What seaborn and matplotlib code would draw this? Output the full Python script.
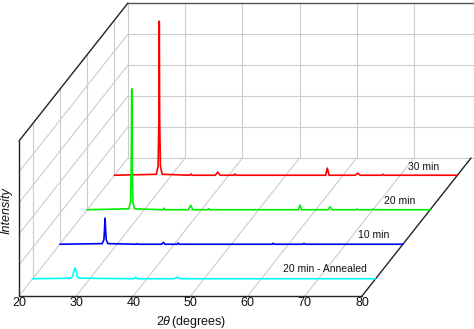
import numpy as np
import pandas as pd
import matplotlib
matplotlib.use("Agg")
import matplotlib.pyplot as plt
import seaborn as sns

# ---------------- data ----------------
series_labels = ["20 min - Annealed", "10 min", "20 min", "30 min"]
series_colors = ["#00FFFF", "#0000FF", "#00EE00", "#FF0000"]
series_depth = [0.125, 0.375, 0.625, 0.875]   # position along the depth axis (fraction)

# 2theta / intensity points (intensity in grid units, 5 units = full height)
annealed_x = [20, 26.7, 27.0, 27.2, 27.4, 27.6, 27.8, 28.1, 37.7, 38.0, 38.3, 44.7, 45.3, 45.9, 80]
annealed_y = [0, 0.02, 0.08, 0.25, 0.35, 0.25, 0.08, 0.02, 0, 0.05, 0, 0, 0.05, 0, 0]

min10_x = [20, 27.4, 27.7, 27.8, 27.9, 28.0, 28.1, 28.4, 33.3, 33.5, 33.7, 37.8, 38.1, 38.4,
           40.5, 40.7, 40.9, 57.1, 57.3, 57.5, 62.5, 62.7, 62.9, 80]
min10_y = [0, 0.02, 0.15, 0.45, 0.84, 0.45, 0.15, 0.02, 0, 0.02, 0, 0, 0.06, 0,
           0, 0.04, 0, 0, 0.03, 0, 0, 0.03, 0, 0]

min20_x = [20, 27.3, 27.6, 27.72, 27.8, 27.88, 28.0, 28.3, 33.25, 33.45, 33.65, 37.7, 38.1, 38.5,
           41.1, 41.3, 41.5, 56.95, 57.24, 57.55, 62.1, 62.5, 62.9, 67.0, 67.2, 67.4,
           69.8, 70.0, 70.2, 80]
min20_y = [0, 0.03, 0.25, 1.5, 3.9, 1.5, 0.25, 0.03, 0, 0.05, 0, 0, 0.14, 0,
           0, 0.03, 0, 0, 0.15, 0, 0, 0.09, 0, 0, 0.02, 0,
           0, 0.02, 0, 0]

min30_x = [20, 27.35, 27.65, 27.78, 27.85, 27.92, 28.05, 28.35, 33.2, 33.4, 33.6, 37.65, 38.07, 38.5,
           40.9, 41.1, 41.3, 56.95, 57.24, 57.55, 62.15, 62.56, 63.0, 66.8, 67.0, 67.2, 80]
min30_y = [0, 0.03, 0.3, 1.8, 4.97, 1.8, 0.3, 0.03, 0, 0.04, 0, 0, 0.1, 0,
           0, 0.04, 0, 0, 0.23, 0, 0, 0.07, 0, 0, 0.03, 0, 0]

series_x = [annealed_x, min10_x, min20_x, min30_x]
series_y = [annealed_y, min10_y, min20_y, min30_y]

x_ticks = [20, 30, 40, 50, 60, 70, 80]
z_grid = [0, 1, 2, 3, 4, 5]

# ---------------- projection settings ----------------
DX = 19.07   # depth shift in x (degrees)
DY = 4.452   # depth shift in y (intensity units)
X0, X1 = 20, 80
ZTOP = 5

def proj(x, z, f):
    return np.asarray(x, float) + f * DX, np.asarray(z, float) + f * DY

sns.set_theme(style="white")
plt.rcParams["font.family"] = ["Liberation Sans", "DejaVu Sans"]
plt.rcParams["mathtext.fontset"] = "custom"
plt.rcParams["mathtext.it"] = "Liberation Sans:italic"
plt.rcParams["mathtext.rm"] = "Liberation Sans"

fig = plt.figure(figsize=(4.74, 3.29), dpi=100)
ax = fig.add_axes([0, 0, 1, 1])
ax.set_xlim(16.676, 99.59)
ax.set_ylim(-1.0645, 9.548)
ax.axis("off")

gc = "#cccccc"
glw = 0.8
# back plane grid
for x in x_ticks[:-1]:
    px, py = proj([x, x], [0, ZTOP], 1)
    ax.plot(px, py, color=gc, lw=glw, zorder=1)
for z in z_grid[:-1]:
    px, py = proj([X0, X1 + 0.6], [z, z], 1)
    ax.plot(px, py, color=gc, lw=glw, zorder=1)
# left wall grid
for z in z_grid[:-1]:
    ax.plot([X0, X0 + DX], [z, z + DY], color=gc, lw=glw, zorder=1)
for f in series_depth:
    px, py = proj([X0, X0], [0, ZTOP], f)
    ax.plot(px, py, color=gc, lw=glw, zorder=1)
# floor grid
for x in x_ticks[1:-1]:
    ax.plot([x, x + DX], [0, DY], color=gc, lw=glw, zorder=1)

# frame edges
ec = "#222222"
elw = 1.0
ax.plot([X0, X1], [0, 0], color=ec, lw=elw, zorder=2)
ax.plot([X0, X0], [0, ZTOP], color=ec, lw=elw, zorder=2)
ax.plot([X0, X0 + DX], [ZTOP, ZTOP + DY], color=ec, lw=elw, zorder=2)
ax.plot([X0 + DX, X1 + DX + 0.6], [ZTOP + DY, ZTOP + DY], color="#555555", lw=elw, zorder=2)
ax.plot([X1, X1 + DX], [0, DY], color=ec, lw=elw, zorder=2)

# traces, back to front
for i in [3, 2, 1, 0]:
    px, py = proj(series_x[i], series_y[i], series_depth[i])
    df = pd.DataFrame({"x": px, "y": py})
    sns.lineplot(data=df, x="x", y="y", color=series_colors[i], lw=1.2,
                 sort=False, estimator=None, ax=ax, zorder=3 + (3 - i))

# series labels
label_pos = [(73.6, 0.87), (82.1, 1.97), (86.6, 3.06), (90.8, 4.16)]
for (lx, ly), lab in zip(label_pos, series_labels):
    ax.text(lx, ly, lab, fontsize=7.5, ha="center", va="center", color="#111111", zorder=10)

# tick labels
for x in x_ticks:
    ax.text(x, -0.03, str(x), fontsize=9, ha="center", va="top", color="#111111")

ax.text(50.1, -0.84, r"$2\theta\,$(degrees)", fontsize=9, ha="center", va="center", color="#111111")
ax.text(17.9, 2.77, "Intensity", fontsize=9, style="italic", rotation=90,
        ha="center", va="center", color="#111111")

ax.set_xlabel("")
ax.set_ylabel("")
fig.savefig("out.png", dpi=100)
